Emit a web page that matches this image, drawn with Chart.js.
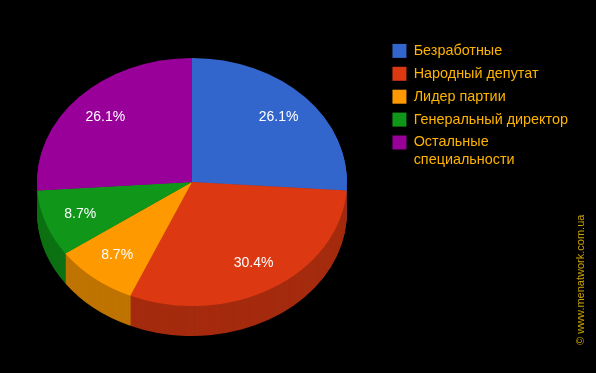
<!DOCTYPE html>
<html>
<head>
<meta charset="utf-8">
<script src="https://cdn.jsdelivr.net/npm/chart.js@4.4.0/dist/chart.umd.min.js"></script>
<style>
  html, body { margin: 0; padding: 0; background: #000; }
</style>
</head>
<body>
<canvas id="myChart" width="596" height="373"></canvas>
<script>
const categories = ['Безработные', 'Народный депутат', 'Лидер партии', 'Генеральный директор', 'Остальные специальности'];
const counts = [6, 7, 2, 2, 6];
const sliceColors = ['#3366cc', '#dc3912', '#ff9900', '#109618', '#990099'];
const watermark = '© www.menatwork.com.ua';

const squash = 0.8;   // ellipse height / width of the top face
const depth = 30;     // thickness of the 3d side, px
const legendColor = '#ffb400';
const fontFamily = 'Arial, "Liberation Sans", sans-serif';

Chart.defaults.font.family = fontFamily;

// long label goes on two lines like the original
const legendText = categories.map(c => c === 'Остальные специальности' ? c.split(' ') : c);

function darker(hex, k) {
  let n = parseInt(hex.slice(1), 16);
  let r = Math.round(((n >> 16) & 255) * k);
  let g = Math.round(((n >> 8) & 255) * k);
  let b = Math.round((n & 255) * k);
  return 'rgb(' + r + ',' + g + ',' + b + ')';
}

let total = counts.reduce((a, b) => a + b, 0);

const pie3d = {
  id: 'pie3d',
  beforeDatasetsDraw(chart) {
    let ctx = chart.ctx;
    let arcs = chart.getDatasetMeta(0).data;
    let cx = arcs[0].x, cy = arcs[0].y;
    // side walls: darker copies stacked downwards
    for (let d = depth; d >= 1; d--) {
      ctx.save();
      ctx.translate(cx, cy + d);
      ctx.scale(1, squash);
      arcs.forEach((a, i) => {
        ctx.beginPath();
        ctx.moveTo(0, 0);
        ctx.arc(0, 0, a.outerRadius, a.startAngle, a.endAngle);
        ctx.closePath();
        ctx.fillStyle = darker(sliceColors[i], 0.75);
        ctx.fill();
      });
      ctx.restore();
    }
    // top face squashed into an ellipse
    ctx.save();
    ctx.translate(cx, cy);
    ctx.scale(1, squash);
    ctx.translate(-cx, -cy);
  },
  afterDatasetsDraw(chart) {
    let ctx = chart.ctx;
    ctx.restore();
    let arcs = chart.getDatasetMeta(0).data;
    ctx.save();
    ctx.fillStyle = '#ffffff';
    ctx.font = '14px ' + fontFamily;
    ctx.textAlign = 'center';
    ctx.textBaseline = 'middle';
    arcs.forEach((a, i) => {
      let mid = (a.startAngle + a.endAngle) / 2;
      let r = a.outerRadius * 0.765;
      let x = a.x + Math.cos(mid) * r;
      let y = a.y + Math.sin(mid) * r * squash;
      ctx.fillText((counts[i] / total * 100).toFixed(1) + '%', x, y);
    });
    ctx.restore();
  },
  afterDraw(chart) {
    let ctx = chart.ctx;
    ctx.save();
    ctx.translate(581, 345);
    ctx.rotate(-Math.PI / 2);
    ctx.font = '11px ' + fontFamily;
    ctx.fillStyle = '#cca300';
    ctx.textAlign = 'left';
    ctx.textBaseline = 'middle';
    ctx.fillText(watermark, 0, 0);
    ctx.restore();
  }
};

new Chart(document.getElementById('myChart'), {
  type: 'pie',
  data: {
    labels: categories,
    datasets: [{
      data: counts,
      backgroundColor: sliceColors,
      borderWidth: 0,
      hoverOffset: 0
    }]
  },
  options: {
    responsive: false,
    devicePixelRatio: 1,
    animation: false,
    events: [],
    layout: {
      padding: { left: -1, right: 18, top: 27, bottom: 36 }
    },
    plugins: {
      tooltip: { enabled: false },
      legend: {
        position: 'right',
        align: 'start',
        title: {
          display: true,
          text: ' ',
          color: 'rgba(0,0,0,0)',
          font: { size: 1 },
          padding: { top: 7, bottom: 0 }
        },
        labels: {
          color: legendColor,
          font: { size: 14.4, lineHeight: 1.2 },
          boxWidth: 14,
          boxHeight: 14,
          padding: 8.5,
          generateLabels(chart) {
            return categories.map((c, i) => ({
              text: legendText[i],
              fillStyle: sliceColors[i],
              strokeStyle: sliceColors[i],
              lineWidth: 0,
              fontColor: legendColor,
              hidden: false,
              index: i
            }));
          }
        }
      }
    }
  },
  plugins: [pie3d]
});
</script>
</body>
</html>
